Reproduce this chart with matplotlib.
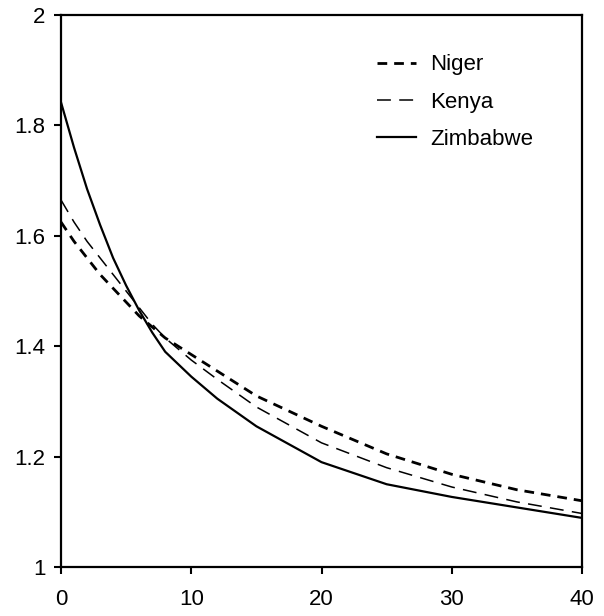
#!/usr/bin/env python3
"""Decline curves for Niger, Kenya and Zimbabwe"""

import matplotlib
matplotlib.use("Agg")
import matplotlib.pyplot as plt

plt.rcParams['font.family'] = ['Liberation Sans', 'DejaVu Sans']
plt.rcParams['lines.scale_dashes'] = False

# values
years = [0, 1, 2, 3, 4, 5, 6, 7, 8, 10, 12, 15, 20, 25, 30, 35, 40]
niger = [1.625, 1.59, 1.56, 1.53, 1.505, 1.48, 1.455, 1.435, 1.415, 1.385,
         1.355, 1.31, 1.255, 1.205, 1.168, 1.14, 1.12]
kenya = [1.665, 1.625, 1.59, 1.56, 1.53, 1.50, 1.47, 1.44, 1.415, 1.375,
         1.34, 1.29, 1.225, 1.18, 1.145, 1.118, 1.097]
zimbabwe = [1.842, 1.76, 1.685, 1.62, 1.56, 1.51, 1.465, 1.425, 1.39, 1.345,
            1.305, 1.255, 1.19, 1.15, 1.127, 1.108, 1.089]

x_ticks = [0, 10, 20, 30, 40]
y_ticks = [1, 1.2, 1.4, 1.6, 1.8, 2]
y_labels = ['1', '1.2', '1.4', '1.6', '1.8', '2']


def main():
    fig = plt.figure(figsize=(6.04, 6.16), dpi=100)
    ax = fig.add_axes([0.101, 0.0795, 0.8626, 0.896])

    ax.plot(years, niger, color='black', lw=2.0, dashes=(7, 5), label='Niger')
    ax.plot(years, kenya, color='black', lw=1.1, dashes=(10, 6), label='Kenya')
    ax.plot(years, zimbabwe, color='black', lw=1.6, label='Zimbabwe')

    ax.set_xlim(0, 40)
    ax.set_ylim(1, 2)
    ax.set_xticks(x_ticks)
    ax.set_yticks(y_ticks)
    ax.set_yticklabels(y_labels)
    ax.tick_params(direction='out', length=5, width=1.5, labelsize=16,
                   color='black')
    ax.tick_params(axis='x', pad=11)
    ax.tick_params(axis='y', pad=6)
    for s in ax.spines.values():
        s.set_linewidth(1.6)

    ax.legend(loc='upper left', bbox_to_anchor=(0.607, 0.929), frameon=False,
              fontsize=16, borderpad=0, borderaxespad=0, handlelength=1.75,
              handletextpad=0.65, labelspacing=0.74)

    fig.savefig('out.png', dpi=100, facecolor='white')
    plt.close(fig)


if __name__ == "__main__":
    main()
